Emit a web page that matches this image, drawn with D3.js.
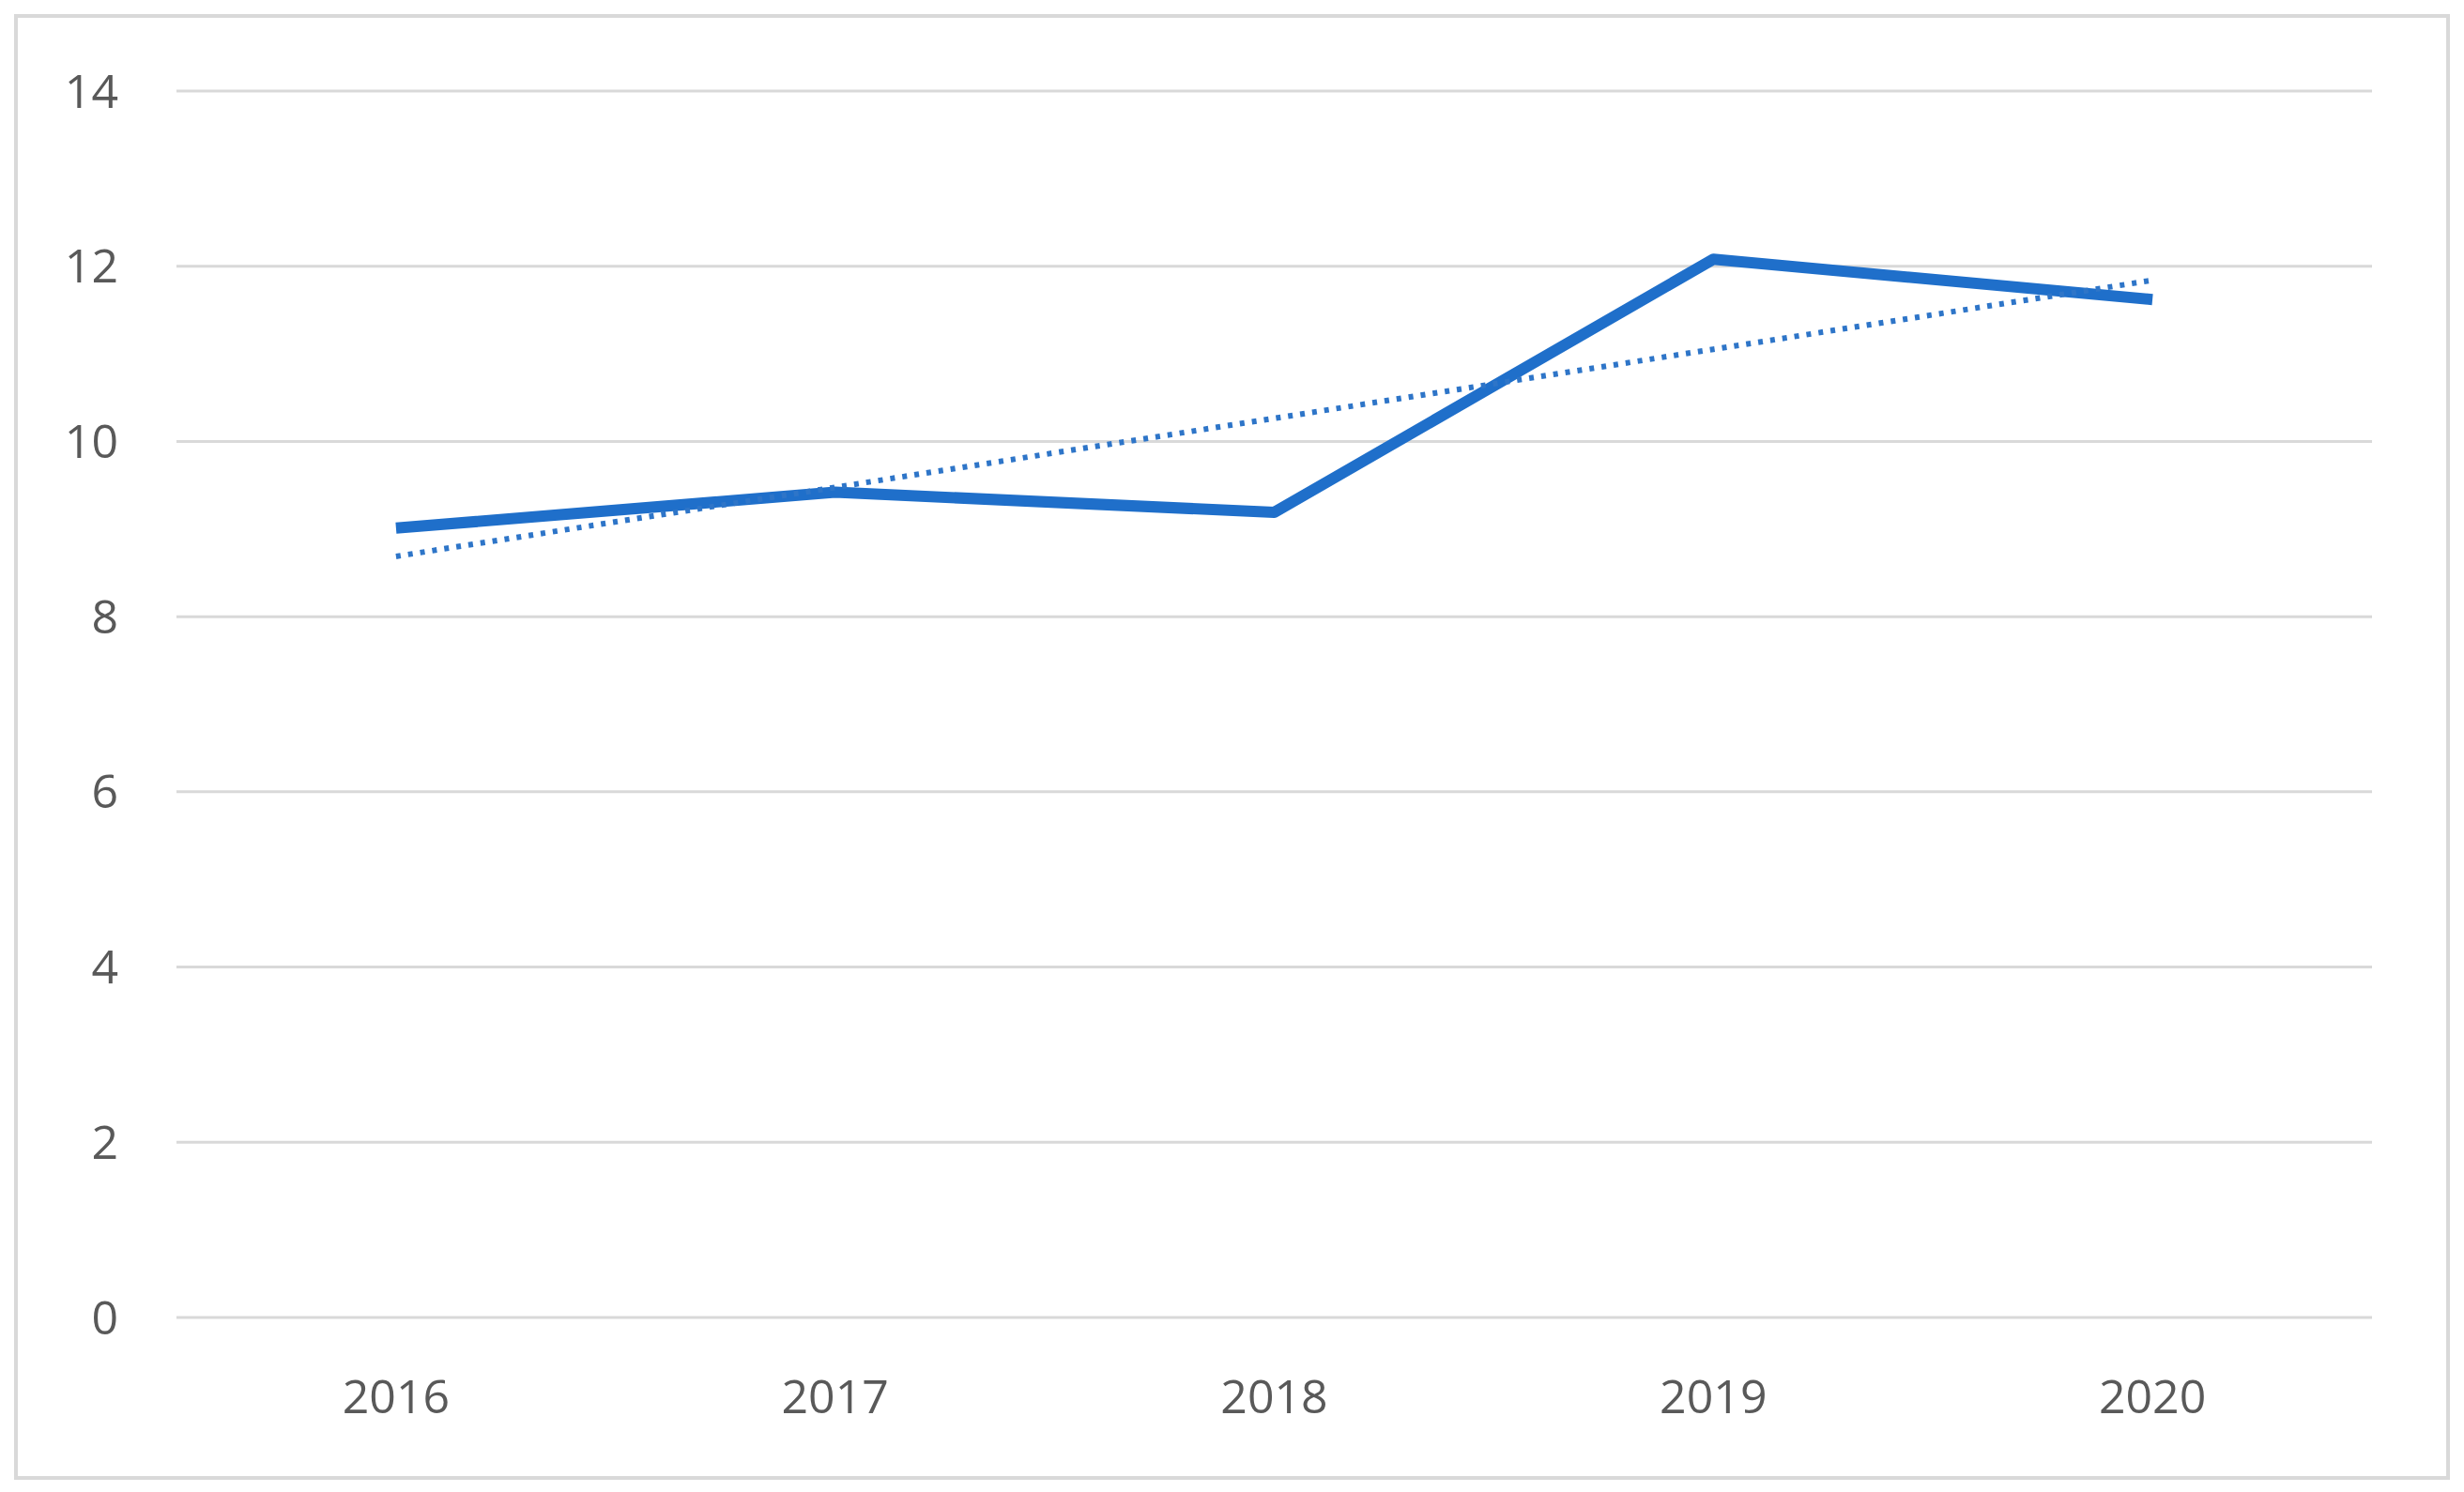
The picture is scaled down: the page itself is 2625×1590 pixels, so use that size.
<!DOCTYPE html>
<html><head><meta charset="utf-8">
<script src="https://cdn.jsdelivr.net/npm/d3@7"></script>
<style>body{margin:0;background:#fff}</style>
</head><body>
<svg id="c" width="2625" height="1590"></svg>
<script>
const years = ["2016","2017","2018","2019","2020"];
const values = [9.01, 9.42, 9.19, 12.08, 11.62];
const yTicks = [0,2,4,6,8,10,12,14];

const svg = d3.select("#c");
const L=188, R=2527, T=97, B=1404;
svg.append("rect").attr("x",17).attr("y",17).attr("width",2591).attr("height",1558)
  .attr("fill","#fff").attr("stroke","#d9d9d9").attr("stroke-width",4);
const x = d3.scaleBand().domain(years).range([L,R]);
const y = d3.scaleLinear().domain([0,14]).range([B,T]);
const font = "'Open Sans', 'Liberation Sans', 'DejaVu Sans', sans-serif";

svg.append("g").selectAll("line").data(yTicks).join("line")
  .attr("x1",L).attr("x2",R).attr("y1",d=>y(d)).attr("y2",d=>y(d))
  .attr("stroke","#d9d9d9").attr("stroke-width",3);
svg.append("g").selectAll("text").data(yTicks).join("text")
  .attr("x",126).attr("y",d=>y(d)).attr("dy","0.35em").attr("text-anchor","end")
  .attr("font-family",font).attr("font-size",50).attr("fill","#595959").text(d=>d);
svg.append("g").selectAll("text").data(years).join("text")
  .attr("x",d=>x(d)+x.bandwidth()/2).attr("y",1488).attr("dy","0.35em").attr("text-anchor","middle")
  .attr("font-family",font).attr("font-size",50).attr("fill","#595959").text(d=>d);

// linear trendline (least squares)
const n=values.length, xm=(n-1)/2, ym=d3.mean(values);
const slope=d3.sum(values,(v,i)=>(i-xm)*(v-ym))/d3.sum(values,(v,i)=>(i-xm)*(i-xm));
const trend=values.map((v,i)=>ym+slope*(i-xm));
const cx=i=>x(years[i])+x.bandwidth()/2;

svg.append("path").datum(values)
  .attr("d",d3.line().x((d,i)=>cx(i)).y(d=>y(d)))
  .attr("fill","none").attr("stroke","#1f6fca").attr("stroke-width",12).attr("stroke-linejoin","round");
svg.append("path").datum(trend)
  .attr("d",d3.line().x((d,i)=>cx(i)).y(d=>y(d)))
  .attr("fill","none").attr("stroke","#2e75c8").attr("stroke-width",6).attr("stroke-dasharray","5,8");
</script>
</body></html>
